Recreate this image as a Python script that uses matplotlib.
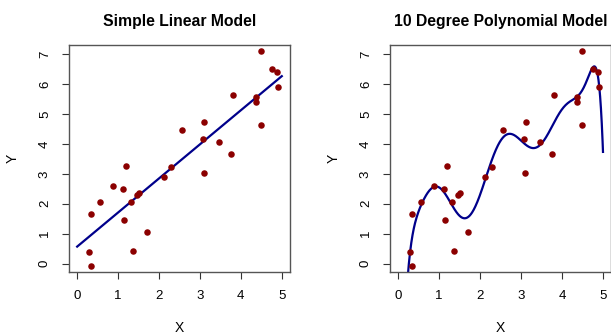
import numpy as np
import matplotlib
matplotlib.use("Agg")
import matplotlib.pyplot as plt

plt.rcParams['font.family'] = ['Liberation Sans', 'DejaVu Sans']

x = np.array([0.29, 0.34, 0.33, 0.55, 0.88, 1.12, 1.15, 1.20, 1.31, 1.36,
              1.47, 1.50, 1.71, 2.11, 2.29, 2.57, 3.07, 3.09, 3.11, 3.46,
              3.76, 3.80, 4.37, 4.37, 4.49, 4.49, 4.76, 4.88, 4.90])
y = np.array([0.39, -0.08, 1.65, 2.05, 2.58, 2.49, 1.47, 3.27, 2.07, 0.42,
              2.30, 2.37, 1.05, 2.89, 3.24, 4.46, 4.16, 3.03, 4.72, 4.05,
              3.65, 5.63, 5.56, 5.42, 7.10, 4.65, 6.50, 6.40, 5.91])

titles = ["Simple Linear Model", "10 Degree Polynomial Model"]
degrees = [1, 10]
xticks = [0, 1, 2, 3, 4, 5]
yticks = [0, 1, 2, 3, 4, 5, 6, 7]

fig = plt.figure(figsize=(6.11, 3.36), dpi=100)
positions = [[0.1129, 0.1905, 0.3617, 0.6756], [0.6383, 0.1905, 0.362, 0.6756]]

xs = np.linspace(0, 5, 500)
for pos, title, deg in zip(positions, titles, degrees):
    ax = fig.add_axes(pos)
    coef = np.polyfit(x, y, deg)
    ax.plot(xs, np.polyval(coef, xs), color='#00008B', lw=1.6, zorder=2)
    ax.scatter(x, y, s=22, color='#8B0000', zorder=3, linewidths=0)
    ax.set_xlim(-0.2, 5.2)
    ax.set_ylim(-0.28, 7.31)
    ax.set_xticks(xticks)
    ax.set_yticks(yticks)
    ax.tick_params(labelsize=9.5, length=5, color='#333333', pad=8)
    for lab in ax.get_yticklabels():
        lab.set_rotation(90)
        lab.set_va('center')
    for s in ax.spines.values():
        s.set_color('#555555')
        s.set_linewidth(1)
    ax.set_xlabel("X", fontsize=10, labelpad=14)
    ax.set_ylabel("Y", fontsize=10, labelpad=14)
    ax.set_title(title, fontsize=11.3, fontweight='bold', pad=14)

fig.savefig("out.png", dpi=100)
